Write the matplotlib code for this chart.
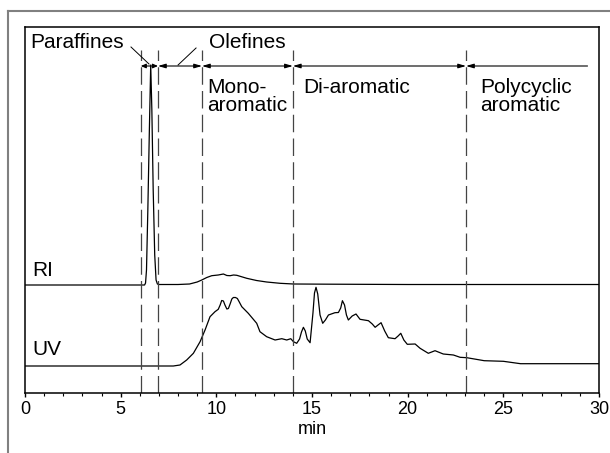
import numpy as np
import matplotlib.pyplot as plt
from matplotlib.lines import Line2D

plt.rcParams['font.family'] = ['Liberation Sans', 'DejaVu Sans']

# RI trace (time in min, signal in arbitrary units)
ri_t = [0, 6.25, 6.30, 6.35, 6.42, 6.50, 6.57, 6.63, 6.70, 6.78, 6.85, 6.92, 7.0,
        8.0, 8.6, 9.0, 9.24, 9.5, 9.76, 10.1, 10.37, 10.55, 10.72, 10.9, 11.07,
        11.59, 12.1, 12.63, 13.33, 14.03, 16.0, 20.0, 23.0, 30.0]
ri_y = [108, 108, 110, 123, 183, 263, 328, 283, 203, 138, 113, 109, 108.5,
        108.5, 109, 111, 113, 115.5, 117.3, 118, 119, 117.5, 117.3, 118, 117.7,
        114.7, 112.5, 111, 109.7, 109, 108.8, 108.5, 108.5, 108.5]

# UV trace
uv_t = [0, 7.75, 8.1, 8.45, 8.8, 9.15, 9.41, 9.67, 9.93, 10.1, 10.2, 10.28, 10.37,
        10.45, 10.55, 10.63, 10.72, 10.81, 10.89, 11.0, 11.1, 11.2, 11.33, 11.67,
        12.11, 12.28, 12.63, 13.07, 13.42, 13.68, 13.89, 14.03, 14.2, 14.35, 14.45,
        14.55, 14.65, 14.75, 14.9, 15.05, 15.13, 15.21, 15.3, 15.42, 15.56, 15.7,
        15.86, 16.2, 16.38, 16.5, 16.59, 16.7, 16.8, 16.9, 17.1, 17.3, 17.51,
        17.95, 18.15, 18.3, 18.45, 18.61, 18.8, 18.99, 19.34, 19.5, 19.64, 19.8,
        19.98, 20.39, 20.65, 21.08, 21.43, 21.86, 22.39, 22.74, 23.09, 23.79,
        24.0, 25.0, 25.9, 27.4, 30.0]
uv_y = [27, 27, 28, 33, 39.7, 51.3, 63, 76.3, 81.3, 83.7, 88, 92.5, 92,
        88, 84, 84.5, 89, 94, 95.5, 95.5, 94.5, 91, 86.3, 79.7,
        69.7, 61.3, 56.3, 53, 54.3, 53, 54.3, 51.3, 49.7, 54, 61,
        65.7, 62, 54, 50.3, 80, 100, 105.7, 99, 78, 69.7, 73,
        78, 80.3, 80.5, 85, 92.3, 88, 78, 73, 77, 79, 73.7,
        72.3, 69, 65.7, 68, 70.3, 62, 55.3, 54.3, 57, 59.7, 53,
        48.7, 49, 44.7, 39.7, 42.3, 39, 38, 35.7, 35.3, 33,
        32.3, 31.7, 29.3, 29.3, 29.3]

# fraction boundaries (min) and labels
bounds = [6.05, 6.95, 9.25, 14.0, 23.05]
arrow_end = 29.4
frac_labels = ['Mono-\naromatic', 'Di-aromatic', 'Polycyclic\naromatic']
frac_x = [9.5, 14.55, 23.78]

fig = plt.figure(figsize=(6.1, 4.53), dpi=100)
ax = fig.add_axes([25 / 610, 60 / 453, 574 / 610, 366 / 453])

# outer gray frame (partially cropped)
fig.add_artist(Line2D([8 / 610, 1], [1 - 11 / 453] * 2, color='#808080', lw=1.5))
fig.add_artist(Line2D([8 / 610] * 2, [0, 1 - 11 / 453], color='#808080', lw=1.5))

ax.plot(ri_t, ri_y, color='black', lw=0.9)
ax.plot(uv_t, uv_y, color='black', lw=0.9)

for b in bounds:
    ax.plot([b, b], [0, 343], color='#444444', lw=0.9, dashes=(14, 5))

arr_y = 327
for a, b in zip(bounds[:-1], bounds[1:]):
    hl = 0.3 if b - a < 1 else 0.45
    ax.annotate('', xy=(b, arr_y), xytext=(a, arr_y),
                arrowprops=dict(arrowstyle=f'<|-|>, head_length={hl}, head_width=0.13',
                                lw=0.8, color='black', shrinkA=0, shrinkB=0))
ax.annotate('', xy=(arrow_end, arr_y), xytext=(bounds[-1], arr_y),
            arrowprops=dict(arrowstyle='<|-, head_length=0.45, head_width=0.13',
                            lw=0.8, color='black', shrinkA=0, shrinkB=0))

# leader lines
ax.plot([5.54, 6.48], [346, 329], color='black', lw=0.7)
ax.plot([8.94, 8.0], [345, 328], color='black', lw=0.7)

ax.text(0.26, 350, 'Paraffines', fontsize=15, va='center', ha='left')
ax.text(9.6, 350, 'Olefines', fontsize=15, va='center', ha='left')
for lab, x in zip(frac_labels, frac_x):
    ax.text(x, 315, lab, fontsize=15, va='top', ha='left', linespacing=0.95)

ax.text(0.4, 113, 'RI', fontsize=15, va='bottom', ha='left')
ax.text(0.4, 34, 'UV', fontsize=15, va='bottom', ha='left')

ax.set_xlim(0, 30)
ax.set_ylim(0, 366)
ax.set_xticks(np.arange(0, 31, 5))
ax.set_xticks(np.arange(0, 31, 1), minor=True)
ax.set_yticks([])
ax.tick_params(axis='x', which='major', direction='out', length=3, width=1,
               labelsize=13, pad=3)
ax.tick_params(axis='x', which='minor', direction='out', length=1.8, width=0.8)
ax.set_xlabel('min', fontsize=13, labelpad=2)
for s in ax.spines.values():
    s.set_linewidth(1.1)

fig.savefig('out.png', dpi=100)
